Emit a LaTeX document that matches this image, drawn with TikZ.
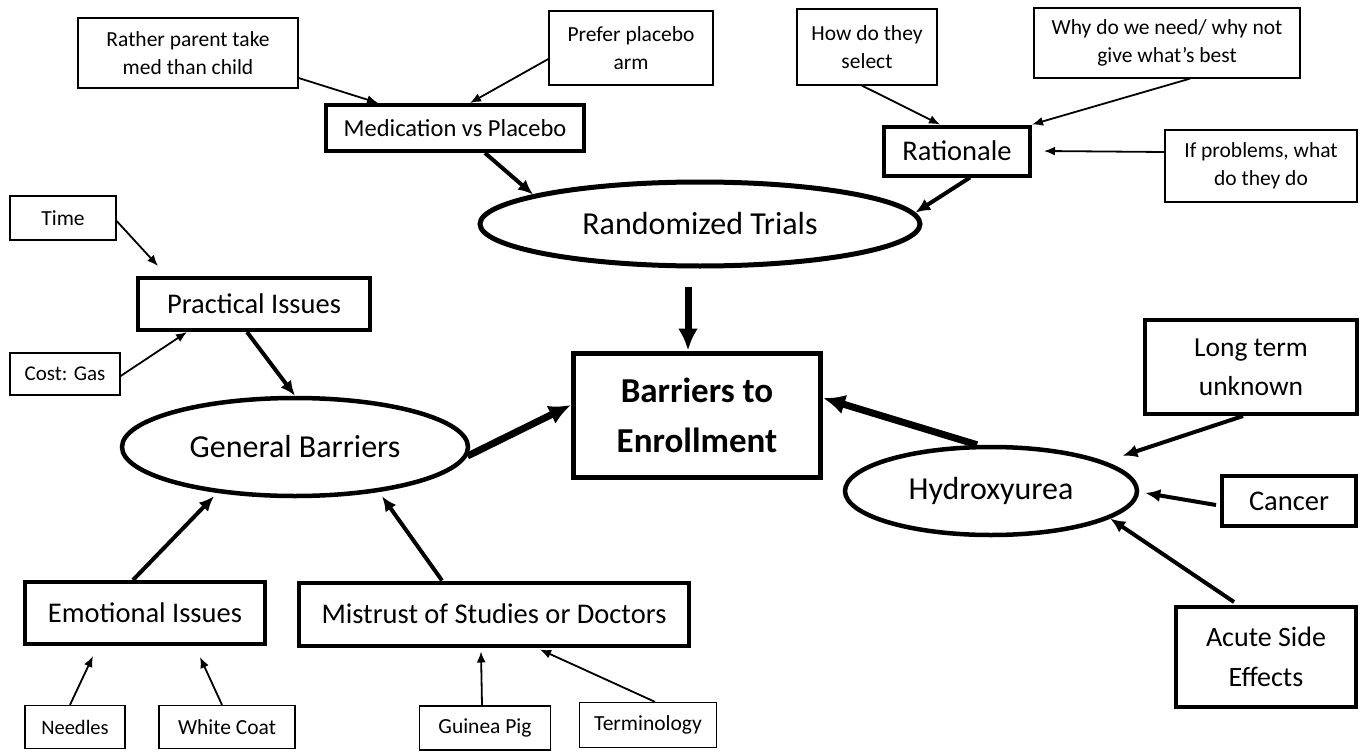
\documentclass[tikz,border=0pt]{standalone}
\usepackage{fontspec}
\setmainfont{Carlito}
\usetikzlibrary{arrows.meta,shapes.geometric}
\tikzset{
  thinbox/.style={draw, line width=1.3pt, align=center, inner sep=0pt, font=\fontsize{21.5}{28}\selectfont},
  thickbox/.style={draw, line width=4pt, align=center, inner sep=0pt},
  oval/.style={draw, ellipse, line width=4.5pt, inner sep=0pt},
  thinarr/.style={line width=1.8pt, -{Latex[length=11pt,width=9pt]}},
  midarr/.style={line width=4pt, -{Latex[length=15pt,width=13pt]}},
  bigarr/.style={line width=7pt, -{Latex[length=22pt,width=20pt]}}
}
\begin{document}
\begin{tikzpicture}[x=1pt,y=-1pt]
\useasboundingbox[fill=white] (0,0) rectangle (1360,752);
% top-left
\node[thinbox, minimum width=220pt, minimum height=70pt] (rp) at (188,53) {Rather parent take\\med than child};
\node[thinbox, minimum width=164pt, minimum height=74pt] (pp) at (631,48) {Prefer placebo\\arm};
\node[thickbox, minimum width=258pt, minimum height=46pt, font=\fontsize{24.5}{28}\selectfont] (med) at (455,128) {Medication vs Placebo};
% top-right
\node[thinbox, minimum width=140pt, minimum height=76pt] (how) at (867,47) {How do they\\select};
\node[thinbox, minimum width=266pt, minimum height=70pt] (why) at (1167,43) {Why do we need/ why not\\give what’s best};
\node[thickbox, minimum width=146pt, minimum height=49pt, font=\fontsize{28.5}{32}\selectfont] (rat) at (957,151) {Rationale};
\node[thinbox, minimum width=192pt, minimum height=72pt] (ifp) at (1261,166) {If problems, what\\do they do};
\node[oval, line width=5pt, minimum width=440pt, minimum height=84pt, font=\fontsize{32}{36}\selectfont] (rt) at (700,224) {Randomized Trials};
% left
\node[thinbox, minimum width=106pt, minimum height=44pt] (time) at (63,218) {Time};
\node[thickbox, minimum width=232pt, minimum height=52pt, font=\fontsize{28.5}{32}\selectfont] (prac) at (254,304) {Practical Issues};
\node[thinbox, minimum width=110pt, minimum height=42pt, font=\fontsize{21}{24}\selectfont] (cost) at (65,374) {Cost: Gas};
\node[oval, minimum width=346pt, minimum height=98pt, font=\fontsize{32}{36}\selectfont] (gb) at (295,447) {General Barriers};
% centre
\node[thickbox, line width=5pt, minimum width=247pt, minimum height=124pt, font=\fontsize{35}{50}\bfseries\selectfont] (bar) at (697,415) {Barriers to\\Enrollment};
% right
\node[thickbox, minimum width=212pt, minimum height=94pt, font=\fontsize{27.5}{39}\selectfont] (lt) at (1251,367) {Long term\\unknown};
\node[oval, minimum width=292pt, minimum height=88pt, font=\fontsize{32}{36}\selectfont] (hy) at (991,491) {Hydroxyurea};
\node[thickbox, minimum width=134pt, minimum height=50pt, font=\fontsize{28.5}{32}\selectfont] (can) at (1289,501) {Cancer};
\node[thickbox, minimum width=180pt, minimum height=100pt, font=\fontsize{28}{40}\selectfont] (acute) at (1266,657) {Acute Side\\Effects};
% bottom
\node[thickbox, minimum width=240pt, minimum height=62pt, font=\fontsize{28.5}{32}\selectfont] (emo) at (145,613) {Emotional Issues};
\node[thickbox, minimum width=390pt, minimum height=63pt, font=\fontsize{28.5}{32}\selectfont] (mis) at (494,614) {Mistrust of Studies or Doctors};
\node[thinbox, minimum width=100pt, minimum height=43pt, font=\fontsize{20.5}{24}\selectfont] (need) at (75,727) {Needles};
\node[thinbox, minimum width=136pt, minimum height=43pt] (wc) at (227,727) {White Coat};
\node[thinbox, minimum width=131pt, minimum height=44pt] (gp) at (485,728) {Guinea Pig};
\node[thinbox, minimum width=137pt, minimum height=45pt] (term) at (648,725) {Terminology};
% connectors
\draw[thinarr] ([yshift=-25pt]rp.east) -- ([xshift=-77pt]med.north);
\draw[thinarr] ([yshift=-11pt]pp.west) -- ([xshift=15pt]med.north);
\draw[midarr] ([xshift=30pt]med.south) -- (rt.170);
\draw[thinarr] ([xshift=-5pt]how.south) -- ([xshift=-17pt]rat.north);
\draw[thinarr] ([xshift=23pt]why.south) -- (rat.north east);
\draw[thinarr] ([yshift=14pt]ifp.west) -- ([xshift=12pt]rat.east);
\draw[midarr] ([xshift=13pt]rat.south) -- (rt.3);
\draw[bigarr] ([xshift=-12pt,yshift=-18pt]rt.south) -- ([xshift=-9pt]bar.north);
\draw[thinarr] ([yshift=-3pt]time.east) -- ([xshift=22pt,yshift=10pt]prac.north west);
\draw[thinarr] ([yshift=-2pt]cost.east) -- ([xshift=-67pt]prac.south);
\draw[midarr] ([xshift=-7pt]prac.south) -- (gb.north);
\draw[bigarr] (gb.-3) -- ([yshift=10pt]bar.west);
\draw[bigarr] ([xshift=-14pt]hy.north) -- ([yshift=17pt]bar.east);
\draw[midarr] ([xshift=-8pt]lt.south) -- ([xshift=19pt,yshift=5pt]hy.15);
\draw[midarr] ([xshift=-4pt,yshift=-4pt]can.west) -- ([xshift=6pt,yshift=-2pt]hy.east);
\draw[midarr] ([xshift=-32pt,yshift=3pt]acute.north) -- (hy.-13);
\draw[midarr] ([xshift=-12pt]emo.north) -- ([xshift=-81pt,yshift=2pt]gb.south);
\draw[midarr] ([xshift=-52pt]mis.north) -- ([xshift=87pt,yshift=2pt]gb.south);
\draw[thinarr] ([xshift=-5pt]need.north) -- ([xshift=-52pt,yshift=-10pt]emo.south);
\draw[thinarr] ([xshift=-5pt]wc.north) -- ([xshift=55pt,yshift=-11pt]emo.south);
\draw[thinarr] ([xshift=-3pt]gp.north) -- ([xshift=-13pt,yshift=-4pt]mis.south);
\draw[thinarr] ([xshift=7pt]term.north) -- ([xshift=46pt,yshift=-2pt]mis.south);
\end{tikzpicture}
\end{document}
